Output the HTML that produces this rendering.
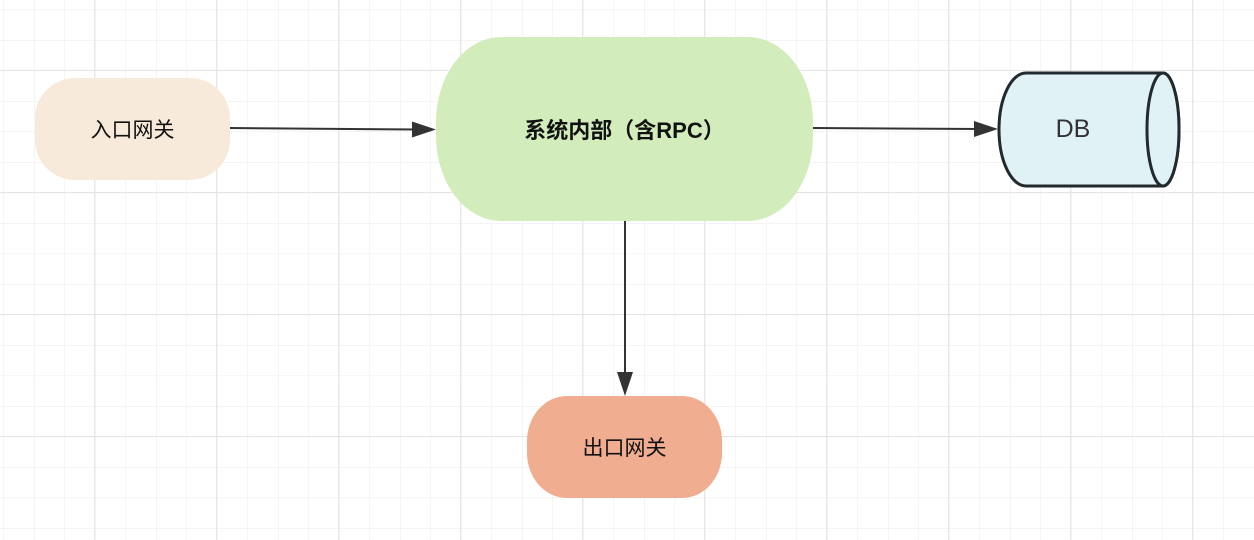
<!DOCTYPE html>
<html><head><meta charset="utf-8"><style>
html,body{margin:0;padding:0;background:#fff;}
body{width:1254px;height:540px;position:relative;overflow:hidden;font-family:"Liberation Sans","Noto Sans CJK SC",sans-serif;}
.n{position:absolute;display:flex;align-items:center;justify-content:center;color:#111;}
</style></head><body>
<svg width="1254" height="540" style="position:absolute;left:0;top:0">
<defs>
<pattern id="mi" x="3.5" y="9.5" width="30.5" height="30.5" patternUnits="userSpaceOnUse">
<path d="M0 0V30.5M0 0H30.5" stroke="#ededed" stroke-width="1.2" fill="none"/>
</pattern>
<pattern id="ma" x="94" y="70" width="122" height="122" patternUnits="userSpaceOnUse">
<path d="M0 0V122M0 0H122" stroke="#e2e2e2" stroke-width="1.6" fill="none"/>
</pattern>
<marker id="ar" markerWidth="10" markerHeight="10" refX="9" refY="5" orient="auto" markerUnits="userSpaceOnUse" viewBox="0 0 10 10">
<path d="M0 0L10 5L0 10Z" fill="#333"/>
</marker>
</defs>
<rect width="1254" height="540" fill="url(#mi)"/>
<rect width="1254" height="540" fill="url(#ma)"/>
<rect x="35" y="78" width="195" height="102" rx="40" ry="40" fill="#f8eadb"/>
<rect x="436" y="37" width="377" height="184" rx="65" ry="85" fill="#d3ecbb"/>
<rect x="527" y="396" width="195" height="102" rx="40" ry="45" fill="#f0ad8f"/>
<path d="M1026 73 H1163 A16 56.5 0 0 1 1163 186 H1026 A27 56.5 0 0 1 1026 73Z" fill="#e0f2f5" stroke="#222a30" stroke-width="3"/>
<ellipse cx="1163" cy="129.5" rx="16" ry="56.5" fill="#e0f2f5" stroke="#222a30" stroke-width="3"/>
<g stroke="#333" stroke-width="2" fill="none">
<path d="M230 128L418 129.5" />
<path d="M813 128L980 129" />
<path d="M625 221V378" />
</g>
<path d="M436 129.5L412 121.5L412 137.5Z" fill="#333"/>
<path d="M998 129L974 121L974 137Z" fill="#333"/>
<path d="M625 396L617 372L633 372Z" fill="#333"/>
</svg>
<div class="n" style="left:35px;top:78px;width:195px;height:102px;font-size:21px;">入口网关</div>
<div class="n" style="left:436px;top:37px;width:377px;height:184px;font-size:22px;font-weight:bold;">系统内部（含RPC）</div>
<div class="n" style="left:527px;top:396px;width:195px;height:102px;font-size:21px;">出口网关</div>
<div class="n" style="left:1000px;top:73px;width:146px;height:113px;font-size:25px;color:#333;">DB</div>
</body></html>
